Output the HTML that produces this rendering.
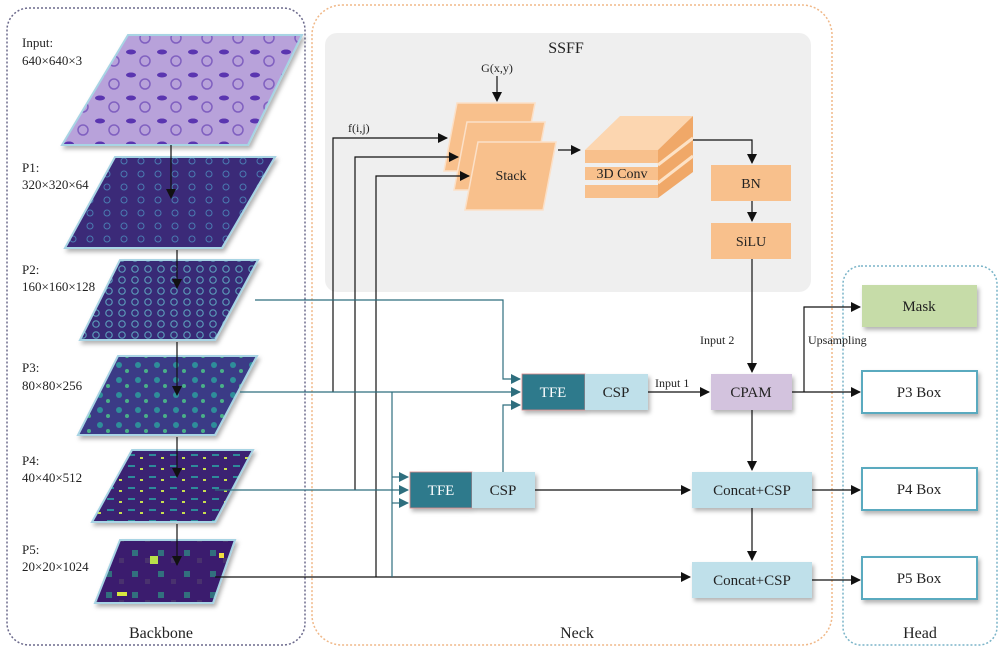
<!DOCTYPE html>
<html><head><meta charset="utf-8"><style>
html,body{margin:0;padding:0;background:#fff;}
svg{display:block;font-family:"Liberation Serif",serif;}
</style></head><body>
<svg width="1002" height="652" viewBox="0 0 1002 652" xmlns="http://www.w3.org/2000/svg">
<defs>
<marker id="a" markerWidth="10" markerHeight="10" refX="9" refY="5" orient="auto" markerUnits="userSpaceOnUse"><path d="M0,0 L10,5 L0,10 z" fill="#111"/></marker>
<marker id="t" markerWidth="10" markerHeight="10" refX="9" refY="5" orient="auto" markerUnits="userSpaceOnUse"><path d="M0,0 L10,5 L0,10 z" fill="#2e6e7e"/></marker>
<pattern id="pin" width="31" height="23" patternUnits="userSpaceOnUse"><rect width="31" height="23" fill="#b8a2da"/><ellipse cx="7" cy="6" rx="5" ry="2.5" fill="#5a35b0"/><circle cx="21" cy="15" r="5" fill="none" stroke="#8060c0" stroke-width="1.5"/></pattern>
<pattern id="p1" width="17" height="13" patternUnits="userSpaceOnUse"><rect width="17" height="13" fill="#3a2a78"/><circle cx="5" cy="5" r="3" fill="none" stroke="#4a7ab0" stroke-width="1"/></pattern>
<pattern id="p2" width="13" height="11" patternUnits="userSpaceOnUse"><rect width="13" height="11" fill="#382a76"/><circle cx="5" cy="5" r="3.2" fill="none" stroke="#5a98b8" stroke-width="1.2"/></pattern>
<pattern id="p3" width="19" height="15" patternUnits="userSpaceOnUse"><rect width="19" height="15" fill="#3b3a86"/><circle cx="5" cy="5" r="3" fill="#2e8e9a"/><circle cx="13" cy="11" r="2" fill="#4ab088"/></pattern>
<pattern id="p4" width="21" height="11" patternUnits="userSpaceOnUse"><rect width="21" height="11" fill="#3a2472"/><rect x="2" y="3" width="7" height="2" fill="#2f8a9a"/><rect x="14" y="6" width="3" height="2" fill="#c8e050"/></pattern>
<pattern id="p5" width="26" height="21" patternUnits="userSpaceOnUse"><rect width="26" height="21" fill="#3a1f6e"/><rect x="2" y="4" width="6" height="6" fill="#30707e"/><rect x="15" y="12" width="5" height="5" fill="#48306e"/></pattern>
<filter id="sh" x="-10%" y="-10%" width="130%" height="140%"><feDropShadow dx="2" dy="3" stdDeviation="2" flood-color="#000" flood-opacity="0.3"/></filter>
</defs>

<rect x="7" y="8" width="298" height="637" rx="22" fill="none" stroke="#6c6a8c" stroke-width="1.5" stroke-dasharray="2,2"/>
<rect x="312" y="5" width="520" height="640" rx="30" fill="none" stroke="#f0b888" stroke-width="1.5" stroke-dasharray="2,2"/>
<rect x="843" y="266" width="154" height="379" rx="18" fill="none" stroke="#7ab4c8" stroke-width="1.5" stroke-dasharray="2,2"/>
<rect x="325" y="33" width="486" height="259" rx="12" fill="#efefef"/>

<g stroke="#a8d4e4" stroke-width="2" filter="url(#sh)">
<polygon points="128,35 302,35 248,145 62,145" fill="url(#pin)"/>
<polygon points="115,157 275,157 222,248 65,248" fill="url(#p1)"/>
<polygon points="120,260 258,260 215,340 80,340" fill="url(#p2)"/>
<polygon points="118,356 257,356 215,435 78,435" fill="url(#p3)"/>
<polygon points="132,450 253,450 215,522 92,522" fill="url(#p4)"/>
<polygon points="120,540 235,540 213,603 95,603" fill="url(#p5)"/>
</g>
<rect x="150" y="556" width="8" height="8" fill="#b8e04a"/><rect x="117" y="592" width="10" height="4" fill="#d8e840"/><rect x="219" y="553" width="5" height="5" fill="#f0e040"/>

<g stroke="#111" stroke-width="1.2" fill="none">
<line x1="171" y1="145" x2="171" y2="198" marker-end="url(#a)"/>
<line x1="177" y1="250" x2="177" y2="288" marker-end="url(#a)"/>
<line x1="177" y1="342" x2="177" y2="395" marker-end="url(#a)"/>
<line x1="177" y1="437" x2="177" y2="477" marker-end="url(#a)"/>
<line x1="177" y1="524" x2="177" y2="565" marker-end="url(#a)"/>
</g>

<g font-size="13" fill="#222">
<text x="22" y="47">Input:</text><text x="22" y="65">640×640×3</text>
<text x="22" y="172">P1:</text><text x="22" y="189">320×320×64</text>
<text x="22" y="274">P2:</text><text x="22" y="291">160×160×128</text>
<text x="22" y="372">P3:</text><text x="22" y="390">80×80×256</text>
<text x="22" y="465">P4:</text><text x="22" y="482">40×40×512</text>
<text x="22" y="554">P5:</text><text x="22" y="571">20×20×1024</text>
</g>
<g font-size="16" fill="#222" text-anchor="middle">
<text x="161" y="638">Backbone</text>
<text x="577" y="638">Neck</text>
<text x="920" y="638">Head</text>
<text x="566" y="53">SSFF</text>
</g>

<text x="497" y="72" font-size="12" text-anchor="middle" fill="#222">G(x,y)</text>
<line x1="497" y1="76" x2="497" y2="101" stroke="#111" stroke-width="1.2" marker-end="url(#a)"/>
<g fill="#f8c08c" stroke="#fbe0c8" stroke-width="1.5">
<polygon points="457,103 535,103 522,171 444,171"/>
<polygon points="467,122 545,122 532,190 454,190"/>
<polygon points="478,142 556,142 543,210 465,210"/>
</g>
<text x="511" y="180" font-size="14" text-anchor="middle" fill="#222">Stack</text>
<line x1="558" y1="150" x2="580" y2="150" stroke="#111" stroke-width="1.2" marker-end="url(#a)"/>
<polygon points="585,150 620,116 693,116 658,150" fill="#fcd6b0"/>
<polygon points="658,150 693,116 693,172 658,198" fill="#f0a868"/>
<rect x="585" y="150" width="73" height="13" fill="#f8c08c"/>
<rect x="585" y="167" width="73" height="13" fill="#f8c08c"/>
<rect x="585" y="185" width="73" height="13" fill="#f8c08c"/>
<line x1="658" y1="165" x2="693" y2="138" stroke="#fde2c6" stroke-width="3"/>
<line x1="658" y1="183" x2="693" y2="156" stroke="#fde2c6" stroke-width="3"/>
<text x="622" y="178" font-size="14" text-anchor="middle" fill="#222">3D Conv</text>
<polyline points="693,140 752,140 752,163" fill="none" stroke="#111" stroke-width="1.2" marker-end="url(#a)"/>
<rect x="711" y="165" width="80" height="36" fill="#f8c08c"/>
<text x="751" y="188" font-size="14" text-anchor="middle" fill="#222">BN</text>
<line x1="752" y1="201" x2="752" y2="221" stroke="#111" stroke-width="1.2" marker-end="url(#a)"/>
<rect x="711" y="223" width="80" height="36" fill="#f8c08c"/>
<text x="751" y="246" font-size="14" text-anchor="middle" fill="#222">SiLU</text>

<text x="348" y="132" font-size="12" fill="#222">f(i,j)</text>
<g stroke="#111" stroke-width="1.2" fill="none">
<polyline points="333,392 333,138 447,138" marker-end="url(#a)"/>
<polyline points="355,490 355,157 458,157" marker-end="url(#a)"/>
<polyline points="376,577 376,176 469,176" marker-end="url(#a)"/>
<line x1="752" y1="259" x2="752" y2="372" marker-end="url(#a)"/>
<line x1="752" y1="410" x2="752" y2="470" marker-end="url(#a)"/>
<line x1="752" y1="508" x2="752" y2="560" marker-end="url(#a)"/>
<line x1="648" y1="392" x2="709" y2="392" marker-end="url(#a)"/>
<line x1="535" y1="490" x2="690" y2="490" marker-end="url(#a)"/>
<line x1="215" y1="577" x2="690" y2="577" marker-end="url(#a)"/>
<line x1="792" y1="392" x2="860" y2="392" marker-end="url(#a)"/>
<polyline points="804,392 804,307 860,307" marker-end="url(#a)"/>
<line x1="812" y1="490" x2="860" y2="490" marker-end="url(#a)"/>
<line x1="812" y1="580" x2="860" y2="580" marker-end="url(#a)"/>
</g>
<g stroke="#2e6e7e" stroke-width="1.2" fill="none">
<polyline points="255,300 503,300 503,379 520,379" marker-end="url(#t)"/>
<line x1="240" y1="392" x2="520" y2="392" marker-end="url(#t)"/>
<polyline points="503,472 503,405 520,405" marker-end="url(#t)"/>
<polyline points="392,392 392,577"/>
<polyline points="392,477 408,477" marker-end="url(#t)"/>
<polyline points="392,503 408,503" marker-end="url(#t)"/>
<line x1="215" y1="490" x2="408" y2="490" marker-end="url(#t)"/>
</g>

<g font-size="12" fill="#222">
<text x="700" y="344">Input 2</text>
<text x="655" y="387">Input 1</text>
<text x="808" y="344">Upsampling</text>
</g>

<g filter="url(#sh)">
<rect x="522" y="374" width="63" height="36" fill="#2e7a8c" stroke="#d88" stroke-width="0.8"/>
<rect x="585" y="374" width="63" height="36" fill="#bfe0ea"/>
<rect x="410" y="472" width="62" height="36" fill="#2e7a8c" stroke="#d88" stroke-width="0.8"/>
<rect x="472" y="472" width="63" height="36" fill="#bfe0ea"/>
<rect x="711" y="374" width="81" height="36" fill="#d3c3de"/>
<rect x="692" y="472" width="120" height="36" fill="#bfe0ea"/>
<rect x="692" y="562" width="120" height="36" fill="#bfe0ea"/>
<rect x="862" y="285" width="115" height="42" fill="#c6dca8"/>
<rect x="862" y="371" width="115" height="42" fill="#fff" stroke="#5aaabf" stroke-width="2"/>
<rect x="862" y="468" width="115" height="42" fill="#fff" stroke="#5aaabf" stroke-width="2"/>
<rect x="862" y="557" width="115" height="42" fill="#fff" stroke="#5aaabf" stroke-width="2"/>
</g>
<g font-size="15" text-anchor="middle" fill="#222">
<text x="553" y="397" fill="#fff">TFE</text>
<text x="616" y="397">CSP</text>
<text x="441" y="495" fill="#fff">TFE</text>
<text x="503" y="495">CSP</text>
<text x="751" y="397">CPAM</text>
<text x="752" y="495">Concat+CSP</text>
<text x="752" y="585">Concat+CSP</text>
<text x="919" y="311">Mask</text>
<text x="919" y="397">P3 Box</text>
<text x="919" y="494">P4 Box</text>
<text x="919" y="583">P5 Box</text>
</g>
</svg>
</body></html>
